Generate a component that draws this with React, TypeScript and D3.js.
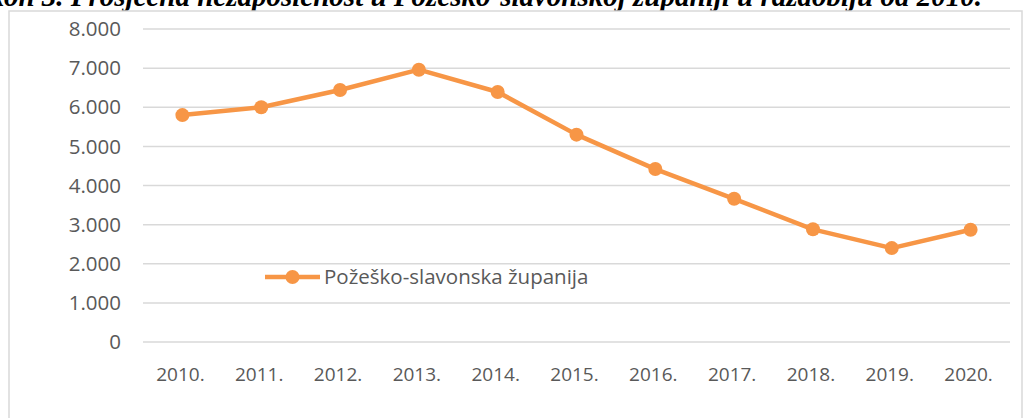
import React, { useEffect, useRef } from "react";
import * as d3 from "d3";

const years = ["2010.", "2011.", "2012.", "2013.", "2014.", "2015.", "2016.", "2017.", "2018.", "2019.", "2020."];
const values = [5800, 6000, 6440, 6960, 6390, 5300, 4420, 3660, 2880, 2400, 2870];
const yTicks = [0, 1000, 2000, 3000, 4000, 5000, 6000, 7000, 8000];
const seriesName = "Požeško-slavonska županija";
const title = "Grafikon 3. Prosječna nezaposlenost u Požeško-slavonskoj županiji u razdoblju od 2010.";

const W = 1024;
const H = 418;
const ORANGE = "#F79646";
const GRID = "#d9d9d9";
const TEXT = "#595959";
const FONT = "'Open Sans', sans-serif";

const fmt = (v: number) => (v === 0 ? "0" : d3.format(",")(v).replace(/,/g, "."));

export default function App() {
  const ref = useRef<SVGSVGElement>(null);

  useEffect(() => {
    const svg = d3.select(ref.current);
    svg.selectAll("*").remove();

    var left = 143, right = 1010, top = 29, bottom = 342;

    var x = d3.scaleBand().domain(years).range([left, right]);
    var y = d3.scaleLinear().domain([0, 8000]).range([bottom, top]);

    // title, only its lower part shows (cropped at the top, as in the source)
    svg
      .append("text")
      .attr("x", 982)
      .attr("y", 6)
      .attr("text-anchor", "end")
      .attr("font-family", "'Liberation Serif', serif")
      .attr("font-style", "italic")
      .attr("font-weight", "bold")
      .attr("font-size", 29)
      .attr("fill", "#000")
      .text(title);

    // chart frame
    svg
      .append("rect")
      .attr("x", 9)
      .attr("y", 11)
      .attr("width", 1013)
      .attr("height", 440)
      .attr("fill", "#fff")
      .attr("stroke", GRID)
      .attr("stroke-width", 1.5);

    // gridlines
    svg
      .selectAll("line.grid")
      .data(yTicks)
      .enter()
      .append("line")
      .classed("grid", true)
      .attr("x1", left)
      .attr("x2", right)
      .attr("y1", d => y(d))
      .attr("y2", d => y(d))
      .attr("stroke", GRID)
      .attr("stroke-width", 1.5);

    // y labels
    svg
      .selectAll("text.ytick")
      .data(yTicks)
      .enter()
      .append("text")
      .classed("ytick", true)
      .attr("x", 121)
      .attr("y", d => y(d))
      .attr("dy", "0.35em")
      .attr("text-anchor", "end")
      .attr("font-family", FONT)
      .attr("font-size", 20.5)
      .attr("fill", TEXT)
      .text(d => fmt(d));

    // x labels
    svg
      .selectAll("text.xtick")
      .data(years)
      .enter()
      .append("text")
      .classed("xtick", true)
      .attr("x", d => (x(d) as number) + x.bandwidth() / 2 - 2)
      .attr("y", 381)
      .attr("text-anchor", "middle")
      .attr("font-family", FONT)
      .attr("font-size", 19)
      .attr("fill", TEXT)
      .text(d => d);

    var line = d3
      .line<number>()
      .x((d, i) => (x(years[i]) as number) + x.bandwidth() / 2)
      .y(d => y(d));

    svg
      .append("path")
      .datum(values)
      .attr("d", line)
      .attr("fill", "none")
      .attr("stroke", ORANGE)
      .attr("stroke-width", 4.5)
      .attr("stroke-linejoin", "round");

    svg
      .selectAll("circle.pt")
      .data(values)
      .enter()
      .append("circle")
      .classed("pt", true)
      .attr("cx", (d, i) => (x(years[i]) as number) + x.bandwidth() / 2)
      .attr("cy", d => y(d))
      .attr("r", 7)
      .attr("fill", ORANGE);

    // legend
    var lg = svg.append("g").attr("transform", "translate(265,277)");
    lg.append("line")
      .attr("x1", 0)
      .attr("x2", 55)
      .attr("stroke", ORANGE)
      .attr("stroke-width", 4.5);
    lg.append("circle").attr("cx", 27.5).attr("r", 7).attr("fill", ORANGE);
    lg.append("text")
      .attr("x", 59)
      .attr("dy", "0.35em")
      .attr("font-family", FONT)
      .attr("font-size", 20.5)
      .attr("fill", TEXT)
      .text(seriesName);
  }, []);

  return (
    <svg
      ref={ref}
      width={W}
      height={H}
      style={{ position: "absolute", left: 0, top: 0, background: "#fff" }}
    />
  );
}
